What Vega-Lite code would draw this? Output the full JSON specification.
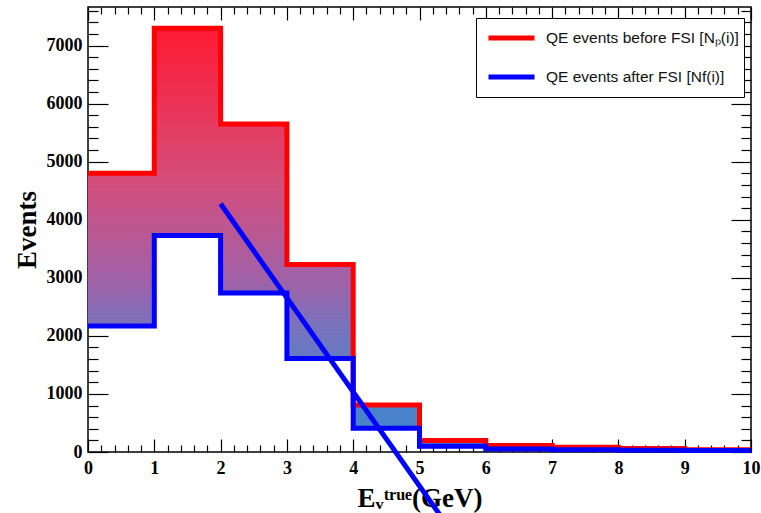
{
  "$schema": "https://vega.github.io/schema/vega-lite/v6.json",
  "width": 663,
  "height": 445,
  "autosize": {"type": "none"},
  "padding": {"left": 88, "top": 7, "right": 10, "bottom": 61},
  "background": "#ffffff",
  "datasets": {
    "hist": [
      {"E": 0, "before": 4800, "after": 2170},
      {"E": 1, "before": 7300, "after": 3730},
      {"E": 2, "before": 5650, "after": 2740},
      {"E": 3, "before": 3230, "after": 1610},
      {"E": 4, "before": 810, "after": 410},
      {"E": 5, "before": 200, "after": 100},
      {"E": 6, "before": 110, "after": 50},
      {"E": 7, "before": 80, "after": 40},
      {"E": 8, "before": 60, "after": 30},
      {"E": 9, "before": 40, "after": 25},
      {"E": 10, "before": 40, "after": 25}
    ],
    "fit": [
      {"E": 2.0, "N": 4275},
      {"E": 5.4, "N": -1233}
    ]
  },
  "layer": [
    {
      "data": {"name": "hist"},
      "mark": {
        "type": "area",
        "interpolate": "step-after",
        "fill": {
          "gradient": "linear",
          "x1": 0, "y1": 0, "x2": 0, "y2": 1,
          "stops": [
            {"offset": 0, "color": "#ff1a33"},
            {"offset": 0.35, "color": "#d64c78"},
            {"offset": 0.6, "color": "#a062a8"},
            {"offset": 0.7, "color": "#7a72bb"},
            {"offset": 0.8, "color": "#5f7cc3"},
            {"offset": 0.9, "color": "#4a82c9"},
            {"offset": 1, "color": "#4484cc"}
          ]
        }
      },
      "encoding": {
        "x": {
          "field": "E", "type": "quantitative",
          "scale": {"domain": [0, 10], "nice": false},
          "axis": {
            "orient": "bottom",
            "title": "Eᵥᵗʳᵘᵉ(GeV)",
            "values": [0, 1, 2, 3, 4, 5, 6, 7, 8, 9, 10],
            "format": "d",
            "labelFlush": false,
            "tickSize": -13,
            "labelPadding": 20,
            "titlePadding": 8
          }
        },
        "y": {
          "field": "before", "type": "quantitative",
          "scale": {"domain": [0, 7665], "nice": false, "zero": true},
          "axis": {
            "orient": "left",
            "title": "Events",
            "values": [0, 1000, 2000, 3000, 4000, 5000, 6000, 7000],
            "format": "d",
            "labelFlush": false,
            "tickSize": -20,
            "labelPadding": 26,
            "titlePadding": 5
          }
        },
        "y2": {"field": "after"}
      }
    },
    {
      "data": {"name": "hist"},
      "transform": [{"fold": ["before", "after"], "as": ["series", "N"]}],
      "mark": {"type": "line", "interpolate": "step-after", "strokeWidth": 5},
      "encoding": {
        "x": {
          "field": "E", "type": "quantitative",
          "axis": {
            "orient": "bottom", "title": null, "labels": false,
            "values": [0.2,0.4,0.6,0.8,1.2,1.4,1.6,1.8,2.2,2.4,2.6,2.8,3.2,3.4,3.6,3.8,4.2,4.4,4.6,4.8,5.2,5.4,5.6,5.8,6.2,6.4,6.6,6.8,7.2,7.4,7.6,7.8,8.2,8.4,8.6,8.8,9.2,9.4,9.6,9.8],
            "tickSize": -7
          }
        },
        "y": {
          "field": "N", "type": "quantitative",
          "axis": {
            "orient": "left", "title": null, "labels": false,
            "values": [200,400,600,800,1200,1400,1600,1800,2200,2400,2600,2800,3200,3400,3600,3800,4200,4400,4600,4800,5200,5400,5600,5800,6200,6400,6600,6800,7200,7400,7600],
            "tickSize": -10
          }
        },
        "color": {
          "field": "series", "type": "nominal",
          "scale": {"domain": ["before", "after"], "range": ["#ff0000", "#0000ff"]},
          "legend": {
            "labelExpr": "datum.label == 'before' ? 'QE events before FSI [Nₚ(i)]' : 'QE events after FSI [Nf(i)]'"
          }
        },
        "order": {"field": "E", "type": "quantitative"}
      }
    },
    {
      "data": {"name": "fit"},
      "mark": {"type": "line", "color": "#0000ff", "strokeWidth": 5, "clip": false},
      "encoding": {
        "x": {
          "field": "E", "type": "quantitative",
          "axis": {
            "orient": "top", "title": null, "labels": false,
            "values": [0, 1, 2, 3, 4, 5, 6, 7, 8, 9, 10],
            "tickSize": -13
          }
        },
        "y": {
          "field": "N", "type": "quantitative",
          "axis": {
            "orient": "right", "title": null, "labels": false,
            "values": [0, 1000, 2000, 3000, 4000, 5000, 6000, 7000],
            "tickSize": -20
          }
        }
      }
    },
    {
      "data": {"name": "fit"},
      "mark": {"type": "point", "opacity": 0, "clip": true},
      "encoding": {
        "x": {
          "field": "E", "type": "quantitative",
          "axis": {
            "orient": "top", "title": null, "labels": false,
            "values": [0.2,0.4,0.6,0.8,1.2,1.4,1.6,1.8,2.2,2.4,2.6,2.8,3.2,3.4,3.6,3.8,4.2,4.4,4.6,4.8,5.2,5.4,5.6,5.8,6.2,6.4,6.6,6.8,7.2,7.4,7.6,7.8,8.2,8.4,8.6,8.8,9.2,9.4,9.6,9.8],
            "tickSize": -7
          }
        },
        "y": {
          "field": "N", "type": "quantitative",
          "axis": {
            "orient": "right", "title": null, "labels": false,
            "values": [200,400,600,800,1200,1400,1600,1800,2200,2400,2600,2800,3200,3400,3600,3800,4200,4400,4600,4800,5200,5400,5600,5800,6200,6400,6600,6800,7200,7400,7600],
            "tickSize": -10
          }
        }
      }
    }
  ],
  "resolve": {"axis": {"x": "independent", "y": "independent"}},
  "config": {
    "view": {"stroke": "#000000", "strokeWidth": 1.5},
    "axis": {
      "grid": false,
      "domain": false,
      "tickColor": "#000000",
      "tickWidth": 1.2,
      "labelFont": "Liberation Serif",
      "labelFontWeight": "bold",
      "labelFontSize": 18,
      "labelColor": "#000000",
      "titleFont": "Liberation Serif",
      "titleFontWeight": "bold",
      "titleFontSize": 27,
      "titleColor": "#000000"
    },
    "legend": {
      "orient": "none",
      "legendX": 388,
      "legendY": 11,
      "title": null,
      "strokeColor": "#000000",
      "strokeWidth": 1,
      "fillColor": "#ffffff",
      "padding": 5,
      "symbolOffset": 5,
      "symbolType": "stroke",
      "symbolSize": 2116,
      "symbolStrokeWidth": 5,
      "labelFont": "Liberation Sans",
      "labelFontSize": 15.5,
      "labelColor": "#111111",
      "labelOffset": 9,
      "labelLimit": 400,
      "clipHeight": 30,
      "rowPadding": 9,
      "cornerRadius": 0
    }
  }
}
